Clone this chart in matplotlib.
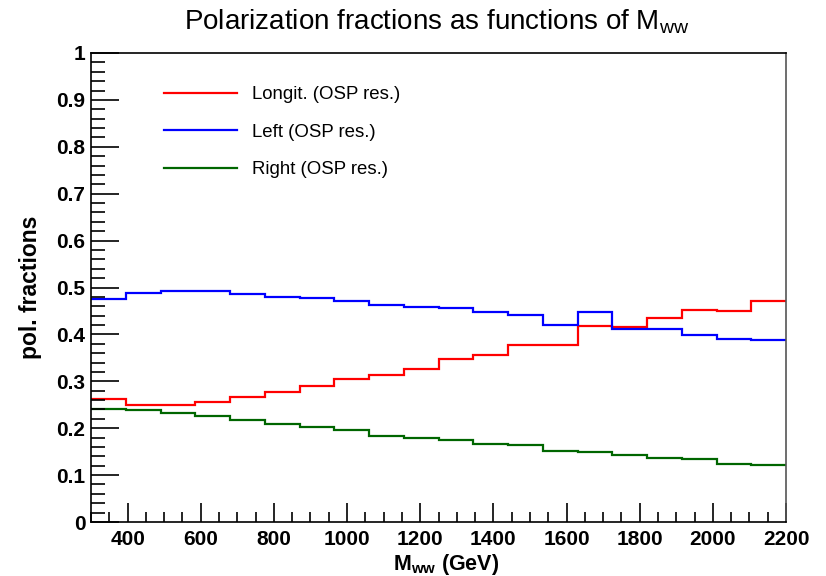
import numpy as np
import matplotlib.pyplot as plt
from matplotlib.ticker import MultipleLocator

plt.rcParams['font.family'] = ['Liberation Sans', 'DejaVu Sans']
plt.rcParams['mathtext.fontset'] = 'custom'
plt.rcParams['mathtext.rm'] = 'Liberation Sans'
plt.rcParams['mathtext.bf'] = 'Liberation Sans:bold'

# 20 bins of 95 GeV from 300 to 2200
edges = np.linspace(300, 2200, 21)
longit = [0.263, 0.2495, 0.2495, 0.256, 0.2665, 0.277, 0.2907, 0.304, 0.314, 0.327,
          0.3475, 0.3554, 0.378, 0.3774, 0.418, 0.4165, 0.4357, 0.452, 0.450, 0.471]
left = [0.475, 0.489, 0.4925, 0.493, 0.487, 0.480, 0.477, 0.471, 0.463, 0.459,
        0.4555, 0.447, 0.441, 0.421, 0.447, 0.411, 0.412, 0.399, 0.391, 0.388]
right = [0.2416, 0.2388, 0.233, 0.2253, 0.2168, 0.2096, 0.2026, 0.1955, 0.1827, 0.1798,
         0.174, 0.167, 0.165, 0.151, 0.1485, 0.1436, 0.137, 0.135, 0.1237, 0.1215]

fig = plt.figure(figsize=(8.26, 5.76), dpi=100)
ax = fig.add_axes([91/826, 1-522/576, (786-91)/826, (522-53)/576])

ax.stairs(longit, edges, baseline=None, color="#ff0000", lw=1.6, label="Longit. (OSP res.)")
ax.stairs(left, edges, baseline=None, color="#0000ff", lw=1.6, label="Left (OSP res.)")
ax.stairs(right, edges, baseline=None, color="#006600", lw=1.6, label="Right (OSP res.)")

ax.set_xlim(300, 2200)
ax.set_ylim(0, 1)
ax.xaxis.set_major_locator(MultipleLocator(200))
ax.xaxis.set_minor_locator(MultipleLocator(50))
ax.set_yticks(np.arange(0, 1.01, 0.1))
ax.set_yticklabels(["0", "0.1", "0.2", "0.3", "0.4", "0.5", "0.6", "0.7", "0.8", "0.9", "1"])
ax.yaxis.set_minor_locator(MultipleLocator(0.02))
ax.tick_params(axis='y', which='major', direction='in', length=20, width=1.2, labelsize=15, pad=4)
ax.tick_params(axis='y', which='minor', direction='in', length=10, width=1.2)
ax.tick_params(axis='x', which='major', direction='in', length=14, width=1.2, labelsize=15, pad=6)
ax.tick_params(axis='x', which='minor', direction='in', length=7, width=1.2)
for lab in ax.get_xticklabels() + ax.get_yticklabels():
    lab.set_fontweight('bold')
for s in ax.spines.values():
    s.set_linewidth(1.2)
ax.spines['right'].set_color('#555555')

ax.set_xlabel(r"M$_{\mathbf{ww}}$ (GeV)", fontsize=15.5, fontweight='bold', va='baseline')
ax.xaxis.set_label_coords((446-91)/695, -(570-522)/469)
ax.set_ylabel("pol. fractions", fontsize=16.5, fontweight='bold')
ax.yaxis.set_label_coords(-(91-42)/695, 0.5)
fig.text(437/826, 1-22/576, r"Polarization fractions as functions of M$_{\mathrm{ww}}$",
         ha='center', va='center', fontsize=20)

leg = ax.legend(loc='upper left', bbox_to_anchor=(0.081, 0.965), frameon=False,
                fontsize=13.4, handlelength=3.9, handletextpad=0.8, labelspacing=1.1)

fig.savefig("out.png", dpi=100)
